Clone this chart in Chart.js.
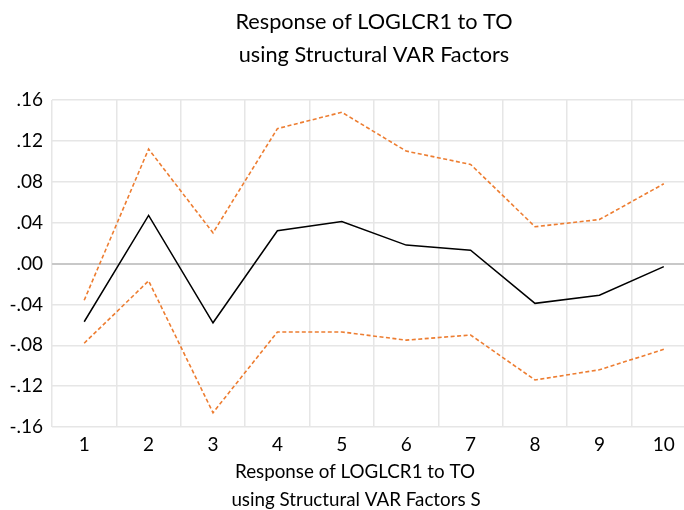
<!DOCTYPE html>
<html>
<head>
<meta charset="utf-8">
<script src="https://cdn.jsdelivr.net/npm/chart.js@4"></script>
<style>
  html, body { margin: 0; padding: 0; background: #fff; overflow: hidden; }
  #wrap { width: 696px; height: 510px; position: relative; }
</style>
</head>
<body>
<div id="wrap"><canvas id="irfChart"></canvas></div>
<script>
const periods = ['1', '2', '3', '4', '5', '6', '7', '8', '9', '10'];
const response = [-0.057, 0.047, -0.058, 0.032, 0.041, 0.018, 0.013, -0.039, -0.031, -0.003];
const upperBand = [-0.036, 0.112, 0.030, 0.132, 0.148, 0.110, 0.097, 0.036, 0.043, 0.078];
const lowerBand = [-0.078, -0.017, -0.146, -0.067, -0.067, -0.075, -0.070, -0.114, -0.104, -0.084];
const yTickLabels = ['-.16', '-.12', '-.08', '-.04', '.00', '.04', '.08', '.12', '.16'];
const titleLines = ['Response of LOGLCR1 to TO', 'using Structural VAR Factors'];
const axisTitleLines = ['Response of LOGLCR1 to TO', 'using Structural VAR Factors S'];

const FONT = 'Lato, "Liberation Sans", sans-serif';

// draws the two title blocks (top and below the x axis)
const titlesPlugin = {
    id: 'irfTitles',
    afterDraw(chart) {
        const ctx = chart.ctx;
        ctx.save();
        ctx.fillStyle = '#000';
        ctx.textAlign = 'center';
        ctx.textBaseline = 'middle';
        ctx.font = '21.7px ' + FONT;
        ctx.fillText(titleLines[0], 374, 22);
        ctx.fillText(titleLines[1], 374, 55);
        ctx.font = '18.8px ' + FONT;
        ctx.fillText(axisTitleLines[0], 355, 472);
        ctx.fillText(axisTitleLines[1], 356, 500);
        ctx.restore();
    }
};

const ctx = document.getElementById('irfChart').getContext('2d');
new Chart(ctx, {
    type: 'line',
    data: {
        labels: periods,
        datasets: [
            {
                data: upperBand,
                borderColor: '#ED7D31',
                borderWidth: 1.6,
                borderDash: [4, 2.5],
                pointRadius: 0,
                tension: 0
            },
            {
                data: lowerBand,
                borderColor: '#ED7D31',
                borderWidth: 1.6,
                borderDash: [4, 2.5],
                pointRadius: 0,
                tension: 0
            },
            {
                data: response,
                borderColor: '#000',
                borderWidth: 1.5,
                pointRadius: 0,
                tension: 0
            }
        ]
    },
    options: {
        responsive: true,
        maintainAspectRatio: false,
        animation: false,
        layout: { padding: { top: 100, right: 0, bottom: 0, left: 0 } },
        plugins: {
            legend: { display: false },
            title: { display: false },
            tooltip: { enabled: false }
        },
        scales: {
            x: {
                offset: true,
                grid: {
                    offset: true,
                    color: '#e6e6e6',
                    lineWidth: 1.5,
                    drawTicks: false
                },
                border: { display: false },
                ticks: {
                    color: '#000',
                    font: { family: FONT, size: 19 },
                    padding: 6,
                    maxRotation: 0
                },
                afterFit(scale) { scale.height = 83; }
            },
            y: {
                min: -0.16,
                max: 0.16,
                grid: {
                    color: (c) => c.tick && Math.abs(c.tick.value) < 1e-9 ? '#c8c8c8' : '#e6e6e6',
                    lineWidth: (c) => c.tick && Math.abs(c.tick.value) < 1e-9 ? 2 : 1.5,
                    drawTicks: false
                },
                border: { display: false },
                ticks: {
                    stepSize: 0.04,
                    color: '#000',
                    font: { family: FONT, size: 19 },
                    padding: 9,
                    callback: (value, i) => yTickLabels[i]
                },
                afterFit(scale) { scale.width = 52; }
            }
        }
    },
    plugins: [titlesPlugin]
});
</script>
</body>
</html>
